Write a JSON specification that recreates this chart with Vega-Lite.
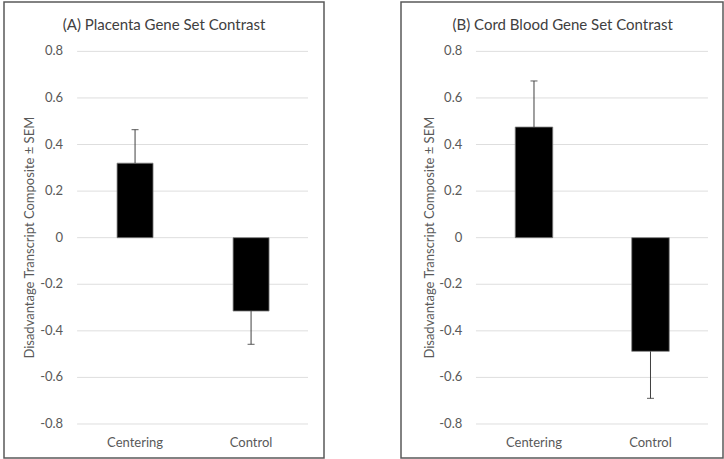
{
  "$schema": "https://vega.github.io/schema/vega-lite/v6.json",
  "padding": {"left": 3, "top": 1, "right": 0, "bottom": 0},
  "bounds": "flush",
  "spacing": 77,
  "datasets": {
    "panelA": [
      {"group": "Centering", "mean": 0.32, "err": 0.464},
      {"group": "Control", "mean": -0.315, "err": -0.458}
    ],
    "panelB": [
      {"group": "Centering", "mean": 0.475, "err": 0.673},
      {"group": "Control", "mean": -0.488, "err": -0.69}
    ],
    "tickvals": [
      {"v": -0.8, "label": "-0.8"}, {"v": -0.6, "label": "-0.6"}, {"v": -0.4, "label": "-0.4"}, {"v": -0.2, "label": "-0.2"}, {"v": 0, "label": "0"},
      {"v": 0.2, "label": "0.2"}, {"v": 0.4, "label": "0.4"}, {"v": 0.6, "label": "0.6"}, {"v": 0.8, "label": "0.8"}
    ],
    "titlesA": [{"panelTitle": "(A) Placenta Gene Set Contrast", "yTitle": "Disadvantage Transcript Composite ± SEM"}],
    "titlesB": [{"panelTitle": "(B) Cord Blood Gene Set Contrast", "yTitle": "Disadvantage Transcript Composite ± SEM"}]
  },
  "hconcat": [
    {
      "width": 320,
      "height": 456,
      "encoding": {
        "x": {"type": "nominal", "axis": null, "scale": {"domain": ["Centering", "Control"], "paddingInner": 0.69, "paddingOuter": 0.724, "align": 0.673}},
        "y": {"type": "quantitative", "axis": null, "scale": {"domain": [-0.946, 1.012], "nice": false, "zero": false}}
      },
      "layer": [
        {
          "data": {"name": "tickvals"},
          "mark": {"type": "rule", "color": "#dedede", "strokeWidth": 1},
          "encoding": {
            "y": {"field": "v", "type": "quantitative"},
            "x": {"datum": "Centering", "type": "nominal", "bandPosition": -1.111},
            "x2": {"datum": "Control", "bandPosition": 2.083}
          }
        },
        {
          "data": {"name": "tickvals"},
          "mark": {"type": "text", "align": "right", "baseline": "middle", "fontSize": 13, "color": "#595959"},
          "encoding": {
            "y": {"field": "v", "type": "quantitative"},
            "x": {"datum": "Centering", "type": "nominal", "bandPosition": -1.5},
            "text": {"field": "label"}
          }
        },
        {
          "data": {"name": "titlesA"},
          "mark": {"type": "text", "align": "center", "baseline": "middle", "angle": 270, "fontSize": 13, "color": "#595959"},
          "encoding": {
            "y": {"datum": 0, "type": "quantitative"},
            "x": {"datum": "Centering", "type": "nominal", "bandPosition": -2.417},
            "text": {"field": "yTitle"}
          }
        },
        {
          "data": {"name": "titlesA"},
          "mark": {"type": "text", "align": "center", "baseline": "alphabetic", "fontSize": 15, "color": "#404040"},
          "encoding": {
            "y": {"datum": 0.89, "type": "quantitative"},
            "x": {"datum": "Centering", "type": "nominal", "bandPosition": 1.306},
            "text": {"field": "panelTitle"}
          }
        },
        {
          "data": {"name": "panelA"},
          "mark": {"type": "bar", "color": "#000000", "stroke": "#7f7f7f", "strokeWidth": 0.8},
          "encoding": {
            "x": {"field": "group", "type": "nominal"},
            "y": {"field": "mean", "type": "quantitative"},
            "y2": {"datum": 0}
          }
        },
        {
          "data": {"name": "panelA"},
          "mark": {"type": "rule", "color": "#404040", "strokeWidth": 1},
          "encoding": {
            "x": {"field": "group", "type": "nominal"},
            "y": {"field": "mean", "type": "quantitative"},
            "y2": {"field": "err"}
          }
        },
        {
          "data": {"name": "panelA"},
          "mark": {"type": "tick", "color": "#404040", "size": 7, "thickness": 1.2},
          "encoding": {
            "x": {"field": "group", "type": "nominal"},
            "y": {"field": "err", "type": "quantitative"}
          }
        },
        {
          "data": {"name": "panelA"},
          "mark": {"type": "text", "align": "center", "baseline": "middle", "fontSize": 13, "color": "#595959"},
          "encoding": {
            "x": {"field": "group", "type": "nominal"},
            "y": {"datum": -0.8815, "type": "quantitative"},
            "text": {"field": "group"}
          }
        }
      ]
    },
    {
      "width": 322,
      "height": 456,
      "encoding": {
        "x": {"type": "nominal", "axis": null, "scale": {"domain": ["Centering", "Control"], "paddingInner": 0.678, "paddingOuter": 0.721, "align": 0.68}},
        "y": {"type": "quantitative", "axis": null, "scale": {"domain": [-0.946, 1.012], "nice": false, "zero": false}}
      },
      "layer": [
        {
          "data": {"name": "tickvals"},
          "mark": {"type": "rule", "color": "#dedede", "strokeWidth": 1},
          "encoding": {
            "y": {"field": "v", "type": "quantitative"},
            "x": {"datum": "Centering", "type": "nominal", "bandPosition": -1.047},
            "x2": {"datum": "Control", "bandPosition": 2.033}
          }
        },
        {
          "data": {"name": "tickvals"},
          "mark": {"type": "text", "align": "right", "baseline": "middle", "fontSize": 13, "color": "#595959"},
          "encoding": {
            "y": {"field": "v", "type": "quantitative"},
            "x": {"datum": "Centering", "type": "nominal", "bandPosition": -1.412},
            "text": {"field": "label"}
          }
        },
        {
          "data": {"name": "titlesB"},
          "mark": {"type": "text", "align": "center", "baseline": "middle", "angle": 270, "fontSize": 13, "color": "#595959"},
          "encoding": {
            "y": {"datum": 0, "type": "quantitative"},
            "x": {"datum": "Centering", "type": "nominal", "bandPosition": -2.281},
            "text": {"field": "yTitle"}
          }
        },
        {
          "data": {"name": "titlesB"},
          "mark": {"type": "text", "align": "center", "baseline": "alphabetic", "fontSize": 15, "color": "#404040"},
          "encoding": {
            "y": {"datum": 0.89, "type": "quantitative"},
            "x": {"datum": "Centering", "type": "nominal", "bandPosition": 1.265},
            "text": {"field": "panelTitle"}
          }
        },
        {
          "data": {"name": "panelB"},
          "mark": {"type": "bar", "color": "#000000", "stroke": "#7f7f7f", "strokeWidth": 0.8},
          "encoding": {
            "x": {"field": "group", "type": "nominal"},
            "y": {"field": "mean", "type": "quantitative"},
            "y2": {"datum": 0}
          }
        },
        {
          "data": {"name": "panelB"},
          "mark": {"type": "rule", "color": "#404040", "strokeWidth": 1},
          "encoding": {
            "x": {"field": "group", "type": "nominal"},
            "y": {"field": "mean", "type": "quantitative"},
            "y2": {"field": "err"}
          }
        },
        {
          "data": {"name": "panelB"},
          "mark": {"type": "tick", "color": "#404040", "size": 7, "thickness": 1.2},
          "encoding": {
            "x": {"field": "group", "type": "nominal"},
            "y": {"field": "err", "type": "quantitative"}
          }
        },
        {
          "data": {"name": "panelB"},
          "mark": {"type": "text", "align": "center", "baseline": "middle", "fontSize": 13, "color": "#595959"},
          "encoding": {
            "x": {"field": "group", "type": "nominal"},
            "y": {"datum": -0.8815, "type": "quantitative"},
            "text": {"field": "group"}
          }
        }
      ]
    }
  ],
  "config": {
    "font": "Lato",
    "view": {"stroke": "#595959", "strokeWidth": 1.5},
    "background": "#ffffff"
  }
}
